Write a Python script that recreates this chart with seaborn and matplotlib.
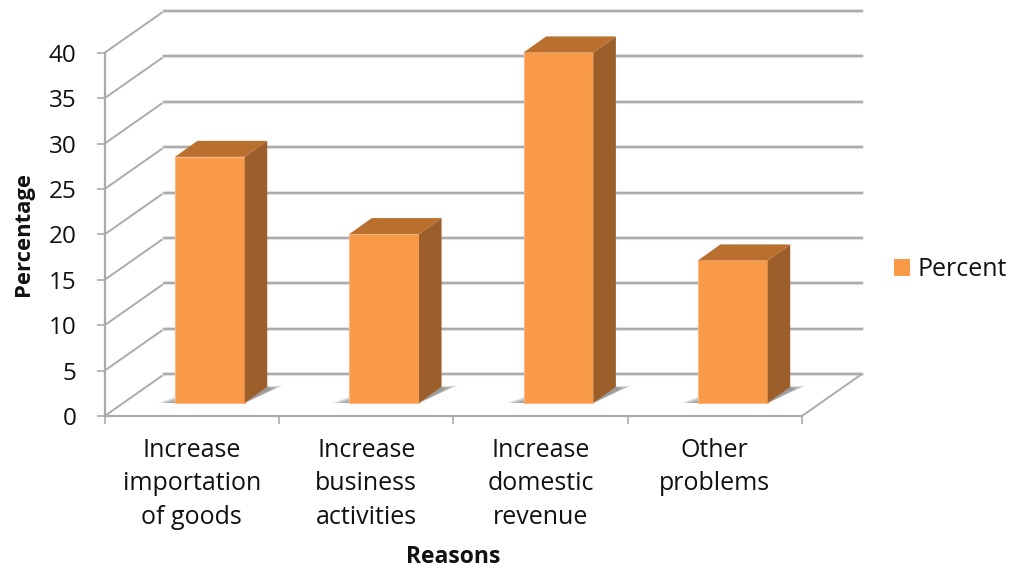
import matplotlib
matplotlib.use("Agg")
import matplotlib.pyplot as plt
import matplotlib.patheffects as pe
from matplotlib.patches import Patch, Polygon
import pandas as pd
import seaborn as sns

categories = ["Increase\nimportation\nof goods", "Increase\nbusiness\nactivities",
              "Increase\ndomestic\nrevenue", "Other\nproblems"]
percent = [27.1, 18.6, 38.6, 15.7]
series_name = "Percent"
y_ticks = [0, 5, 10, 15, 20, 25, 30, 35, 40]

W, H = 1015, 569
L, R, T, B = 104.7, 802.0, 52.7, 416.0
FRONT, SIDE, TOP = "#F99A49", "#9C5F2B", "#B9702F"
GRID = "#ABABAB"

sns.set_theme(style="white", rc={"font.family": ["Open Sans", "DejaVu Sans"]})
fig = plt.figure(figsize=(W / 100, H / 100), dpi=100, facecolor="white")
ax = fig.add_axes([L / W, 1 - B / H, (R - L) / W, (B - T) / H])

df = pd.DataFrame({"Reasons": categories, "Percentage": percent})
sns.barplot(data=df, x="Reasons", y="Percentage", color=FRONT, saturation=1,
            width=0.40, ax=ax, zorder=5)
ax.set_xlim(-0.5, 3.5)
ax.set_ylim(0, 40)

# depth expressed in data units of the axes
ux = (R - L) / 4          # px per category
uy = (B - T) / 40         # px per percent
wall_dx, wall_dy = 59.5 / ux, 41.7 / uy
bar_dx, bar_dy = 18.0 / ux, 13.0 / uy
dep_dx, dep_dy = 22.5 / ux, 16.0 / uy

# walls and floor
glow = [pe.Stroke(linewidth=3.0, foreground="#E4E4E4"), pe.Normal()]
x0, x1 = -0.5, 3.5
for v in y_ticks:
    ax.plot([x0, x0 + wall_dx], [v, v + wall_dy], color=GRID, lw=1.4,
            clip_on=False, zorder=1, solid_capstyle="round")
    ax.plot([x0 + wall_dx, x1 + wall_dx], [v + wall_dy, v + wall_dy], color=GRID, lw=1.5,
            clip_on=False, zorder=1, path_effects=glow)
ax.plot([x1, x1 + wall_dx], [0, wall_dy], color=GRID, lw=1.4, clip_on=False, zorder=1)

# 3-D faces and floor shadows built from the seaborn bars
for bar in list(ax.patches):
    bar.set_x(bar.get_x() + bar_dx)
    bar.set_y(bar_dy)
    bar.set_clip_on(False)
    bar.set_edgecolor("#FBB883")
    bar.set_linewidth(0.8)
    xa, xb = bar.get_x(), bar.get_x() + bar.get_width()
    yb, yt = bar_dy, bar_dy + bar.get_height()
    ax.add_patch(Polygon([(xb, yb), (xb + dep_dx, yb + dep_dy), (xb + dep_dx, yt + dep_dy), (xb, yt)],
                         closed=True, fc=SIDE, ec="none", clip_on=False, zorder=5))
    ax.add_patch(Polygon([(xa, yt), (xa + dep_dx, yt + dep_dy), (xb + dep_dx, yt + dep_dy), (xb, yt)],
                         closed=True, fc=TOP, ec="none", clip_on=False, zorder=5))
    for k in [1.0, 0.85, 0.7, 0.55, 0.4, 0.25]:
        ax.add_patch(Polygon([(xb, yb), (xb + dep_dx * 1.0, yb + dep_dy * 1.02),
                              (xb + dep_dx + 16.0 * k / ux, yb + dep_dy * (0.8 + 0.3 * k))],
                             closed=True, fc="#6E6E6E", ec="none", alpha=0.17,
                             clip_on=False, zorder=2))
        ax.add_patch(Polygon([(xa - 17.0 * k / ux, yb), (xa, yb), (xa, yb + 6.0 * k / uy)],
                             closed=True, fc="#6E6E6E", ec="none", alpha=0.17,
                             clip_on=False, zorder=2))

# axes
for s in ["top", "right"]:
    ax.spines[s].set_visible(False)
for s in ["left", "bottom"]:
    ax.spines[s].set_color(GRID)
    ax.spines[s].set_linewidth(1.6)
    ax.spines[s].set_zorder(3)
ax.set_yticks(y_ticks)
ax.set_xticks([-0.5, 0.5, 1.5, 2.5, 3.5], labels=[""] * 5)
ax.set_xticks([0, 1, 2, 3], labels=categories, minor=True)
ax.tick_params(axis="y", length=6, width=1.2, color=GRID, left=True, labelsize=17.5, pad=14.5,
               labelcolor="#111111")
ax.tick_params(axis="x", which="major", length=5.5, width=1.2, color=GRID, bottom=True)
ax.tick_params(axis="x", which="minor", length=0, labelsize=18, pad=16, labelcolor="#111111")
for t in ax.get_xticklabels(minor=True):
    t.set_linespacing(1.43)

ax.set_xlabel("")
ax.set_ylabel("")
fig.text(453 / W, 1 - 557 / H, "Reasons", ha="center", va="center",
         fontsize=16.5, fontweight="bold", color="#111111")
fig.text(24 / W, 1 - 234 / H, "Percentage", ha="center", va="center", rotation=90,
         fontsize=15.8, fontweight="bold", color="#111111")

ax.legend(handles=[Patch(fc=FRONT, ec="none", label=series_name)], loc="center left",
          bbox_to_anchor=(890 / W, 1 - 270 / H), bbox_transform=fig.transFigure, frameon=False,
          fontsize=18, handlelength=0.65, handleheight=0.65, handletextpad=0.3,
          labelcolor="#111111", borderpad=0.15, borderaxespad=0)

fig.savefig("out.png", dpi=100, facecolor="white")
